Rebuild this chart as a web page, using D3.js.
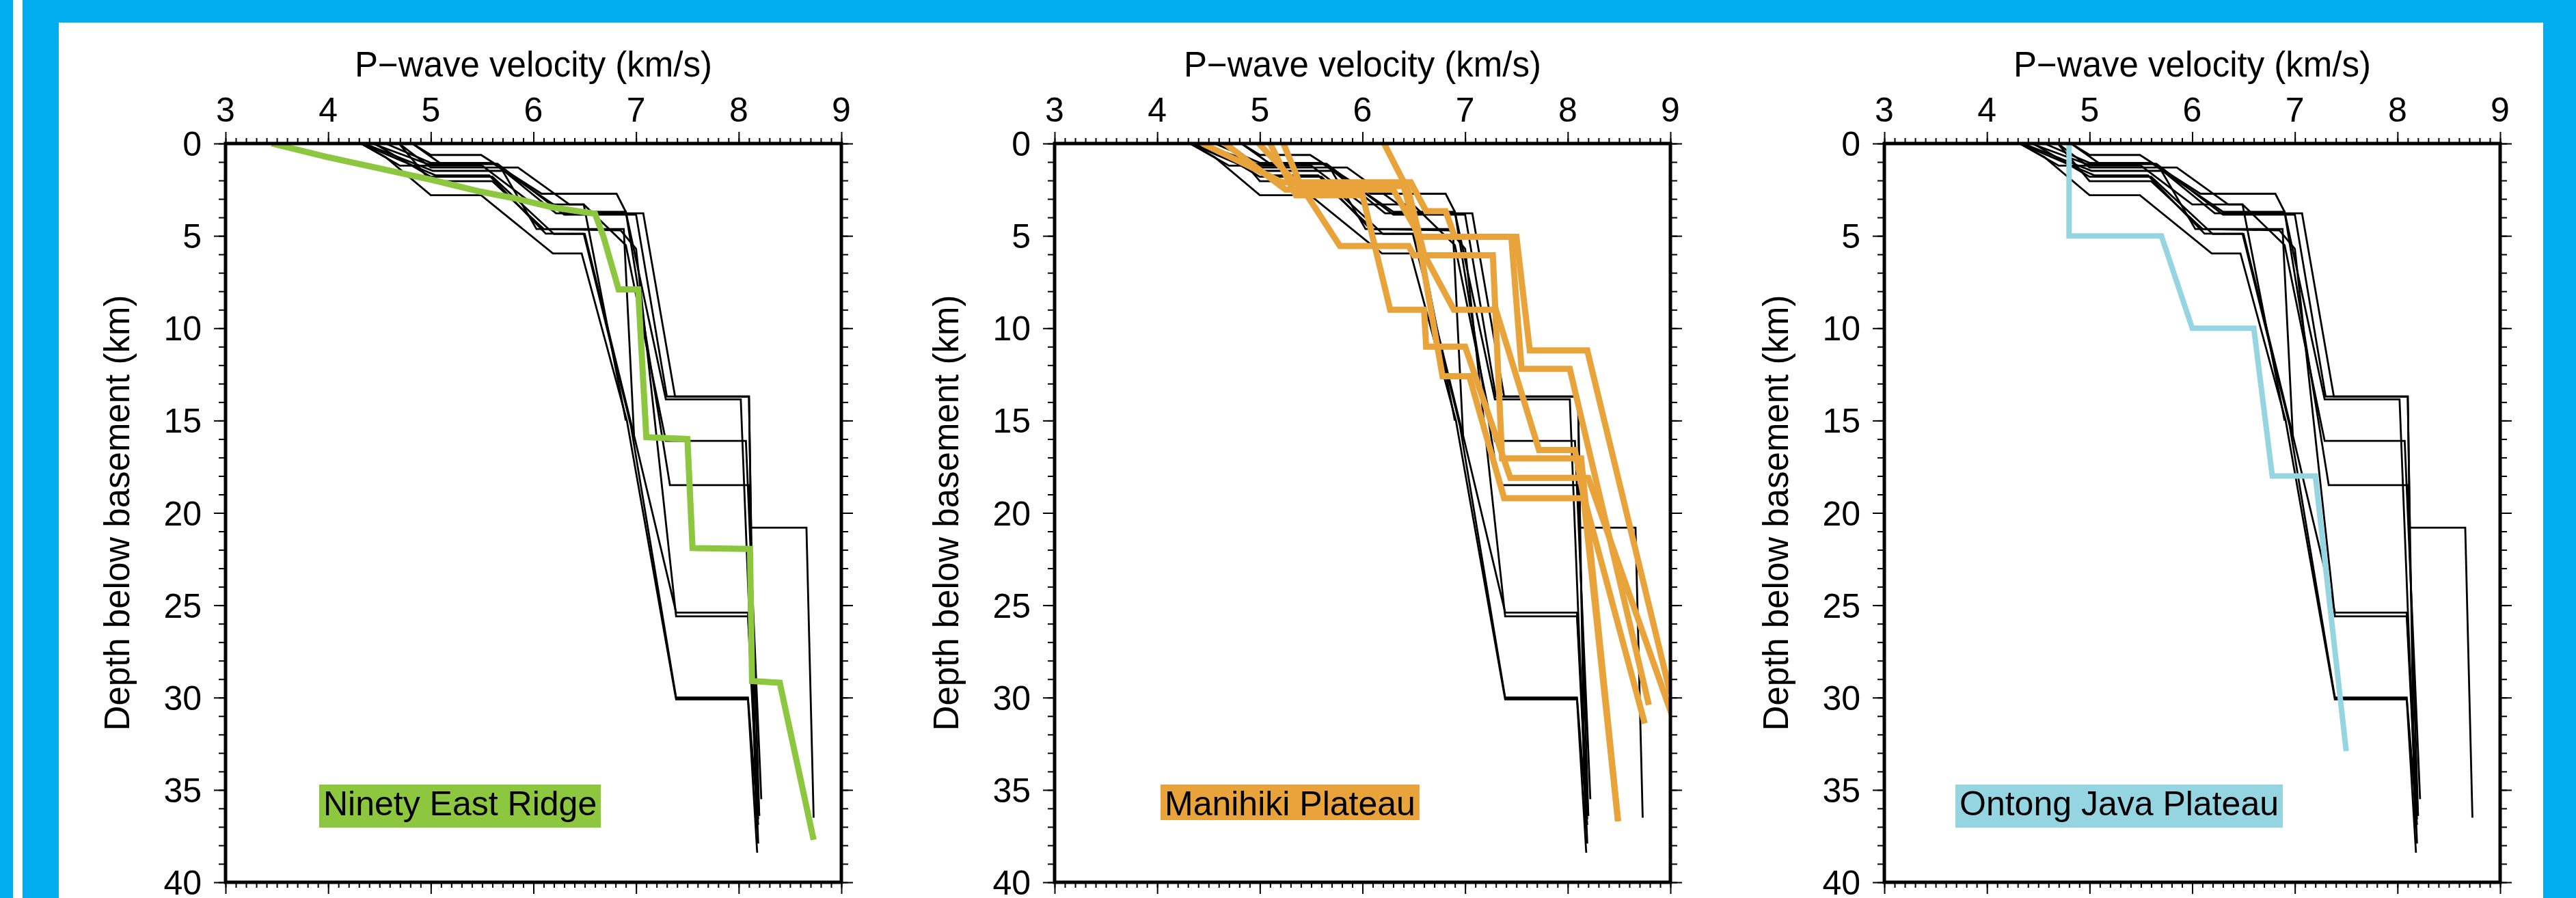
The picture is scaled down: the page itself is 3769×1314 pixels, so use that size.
<!DOCTYPE html>
<html>
<head>
<meta charset="utf-8">
<script src="https://cdn.jsdelivr.net/npm/d3@7"></script>
<style>
  body { margin: 0; background: #fff; }
  svg { display: block; }
  text { font-family: "Liberation Sans", Arial, Helvetica, sans-serif; fill: #000; }
</style>
</head>
<body>
<svg id="chart"></svg>
<script>
// Axis ticks
const xTicks = [3, 4, 5, 6, 7, 8, 9];
const yTicks = [0, 5, 10, 15, 20, 25, 30, 35, 40];

// Reference velocity profiles (black) [velocity km/s, depth km], same in every panel
const refProfiles = [
  [[4.32,0],[4.56,0.74],[5.0,2.8],[5.49,2.8],[6.19,5.95],[6.47,5.95],[6.91,15.0],[7.39,30.1],[8.09,30.1],[8.18,38.4]],
  [[4.32,0],[5.05,1.73],[5.57,1.73],[6.12,4.88],[6.49,4.88],[6.95,15.3],[7.39,30.0],[8.09,30.0],[8.19,36.9]],
  [[4.35,0],[5.02,1.48],[5.70,1.48],[6.03,4.63],[6.88,4.63],[6.98,15.8],[7.39,25.4],[8.09,25.4],[8.20,36.4]],
  [[4.43,0],[4.97,1.11],[5.63,1.11],[6.22,3.78],[7.07,3.78],[7.38,13.7],[8.10,13.7],[8.12,20.8],[8.66,20.8],[8.73,36.5]],
  [[4.56,0],[5.0,1.05],[5.6,1.05],[6.3,3.7],[6.9,3.7],[7.29,13.85],[8.02,13.85],[8.19,37.9]],
  [[4.69,0],[5.0,1.3],[5.85,1.3],[6.35,3.3],[6.49,3.3],[6.9,5.5],[7.29,16.1],[8.07,16.1],[8.22,35.5]],
  [[4.82,0],[5.0,0.62],[5.49,0.62],[6.08,2.72],[6.81,2.72],[6.9,3.7],[7.33,18.5],[8.10,18.5],[8.20,36.4]],
  [[4.69,0],[5.0,2.04],[5.6,2.04],[6.1,4.63],[6.85,4.7],[7.0,5.7],[7.39,25.6],[8.09,25.6],[8.19,36.6]],
  [[4.32,0],[4.7,1.2],[5.5,1.2],[6.0,3.3],[6.49,3.3],[6.9,15.0]],
  [[4.45,0],[5.0,1.8],[5.6,1.8],[6.2,4.9],[6.5,4.9],[6.98,15.8]],
  [[4.82,0],[5.1,1.1],[5.65,1.1],[6.3,3.85],[7.0,3.85],[7.3,13.7],[8.1,13.7],[8.17,37.0]]
];

// Ninety East Ridge profile
const ninetyEast = [
  [[3.45,0],[4.0,0.74],[5.02,1.98],[5.48,2.6],[5.81,2.96],[6.19,3.46],[6.6,3.8],[6.68,5.0],[6.83,7.9],[7.02,7.9],
   [7.1,15.9],[7.5,16.0],[7.55,21.9],[8.11,21.95],[8.13,29.1],[8.40,29.2],[8.73,37.7]]
];

// Manihiki Plateau profiles
const manihiki = [
  [[4.44,0],[5.22,2.1],[6.47,2.1],[6.62,3.66],[6.81,3.66],[6.9,5.05],[7.5,5.05],[7.63,11.2],[8.19,11.2],[9.0,29.8]],
  [[4.66,0],[5.25,2.5],[6.3,2.5],[6.56,5.05],[7.45,5.05],[7.55,12.2],[8.02,12.2],[8.79,30.4]],
  [[4.99,0],[5.45,2.72],[5.78,5.55],[6.45,5.55],[6.5,6.05],[7.27,6.05],[7.36,17.05],[8.13,17.05],[8.49,36.7]],
  [[5.10,0],[5.35,2.8],[6.0,2.8],[6.27,9.0],[6.6,9.0],[6.62,11.0],[7.0,11.0],[7.44,18.1],[8.2,18.1],[9.05,31.5]],
  [[5.23,0],[5.4,2.3],[6.4,2.3],[6.55,5.3],[6.78,12.6],[7.04,12.6],[7.38,19.2],[8.16,19.2],[8.75,31.4]],
  [[6.21,0],[6.45,2.6],[6.6,6.0],[6.89,9.0],[7.3,9.0],[7.72,16.6],[8.07,16.6],[8.15,19.0],[8.49,36.7]]
];

// Ontong Java Plateau profile
const ontongJava = [
  [[4.8,0],[4.8,5],[5.7,5],[6.0,10],[6.6,10],[6.78,18],[7.2,18],[7.5,32.9]]
];

const panels = [
  { left: 330,  name: "Ninety East Ridge",   color: "#8dc63f", profiles: ninetyEast, labelX: 137, width: 9 },
  { left: 1543, name: "Manihiki Plateau",    color: "#e8a33a", profiles: manihiki,   labelX: 155, width: 9 },
  { left: 2757, name: "Ontong Java Plateau", color: "#95d5e1", profiles: ontongJava, labelX: 104, width: 8 }
];

const W = 3769, H = 1314;
const plotTop = 210, pw = 901, ph = 1081;
const blue = "#00aeef";

const svg = d3.select("#chart").attr("width", W).attr("height", H);
svg.append("rect").attr("width", W).attr("height", H).attr("fill", "#fff");

// blue frame
svg.append("rect").attr("x", 0).attr("y", 0).attr("width", 19).attr("height", H).attr("fill", blue);
svg.append("rect").attr("x", 33).attr("y", 0).attr("width", 53).attr("height", H).attr("fill", blue);
svg.append("rect").attr("x", 33).attr("y", 0).attr("width", W - 33).attr("height", 33).attr("fill", blue);
svg.append("rect").attr("x", 3721).attr("y", 0).attr("width", W - 3721).attr("height", H).attr("fill", blue);

const x = d3.scaleLinear().domain([3, 9]).range([0, pw]);
const y = d3.scaleLinear().domain([0, 40]).range([0, ph]);
const line = d3.line().x(d => x(d[0])).y(d => y(d[1]));

const xMinor = d3.range(30, 91, 1).map(d => d / 10);
const yMinor = d3.range(0, 41, 1);

svg.append("defs").append("clipPath").attr("id", "plotClip")
  .append("rect").attr("width", pw).attr("height", ph);

panels.forEach(p => {
  const g = svg.append("g").attr("transform", `translate(${p.left},${plotTop})`);

  // minor + major ticks on all four sides
  const axes = [
    [() => d3.axisTop(x), 0],
    [() => d3.axisBottom(x), ph],
  ];
  axes.forEach(([mk, off]) => {
    g.append("g").attr("transform", `translate(0,${off})`)
      .call(mk().tickValues(xMinor).tickSize(8).tickFormat("").tickSizeOuter(0));
    g.append("g").attr("transform", `translate(0,${off})`)
      .call(mk().tickValues(xTicks).tickSize(17).tickFormat("").tickSizeOuter(0));
  });
  g.append("g").call(d3.axisLeft(y).tickValues(yMinor).tickSize(10).tickFormat("").tickSizeOuter(0));
  g.append("g").call(d3.axisLeft(y).tickValues(yTicks).tickSize(17).tickFormat("").tickSizeOuter(0));
  g.append("g").attr("transform", `translate(${pw},0)`)
    .call(d3.axisRight(y).tickValues(yMinor).tickSize(10).tickFormat("").tickSizeOuter(0));
  g.append("g").attr("transform", `translate(${pw},0)`)
    .call(d3.axisRight(y).tickValues(yTicks).tickSize(17).tickFormat("").tickSizeOuter(0));
  g.selectAll(".domain").remove();
  g.selectAll(".tick line").attr("stroke", "#000").attr("stroke-width", 2);

  // tick labels
  g.selectAll(".xlab").data(xTicks).join("text")
    .attr("class", "xlab")
    .attr("x", d => x(d)).attr("y", -32)
    .attr("text-anchor", "middle").attr("font-size", 50)
    .text(d => d);
  g.selectAll(".ylab").data(yTicks).join("text")
    .attr("class", "ylab")
    .attr("x", -35).attr("y", d => y(d)).attr("dy", "0.36em")
    .attr("text-anchor", "end").attr("font-size", 50)
    .text(d => d);

  // axis titles
  g.append("text").attr("x", pw / 2).attr("y", -98)
    .attr("text-anchor", "middle").attr("font-size", 51)
    .text("P\u2212wave velocity (km/s)");
  g.append("text")
    .attr("transform", `translate(-141,${ph / 2}) rotate(-90)`)
    .attr("text-anchor", "middle").attr("font-size", 51)
    .text("Depth below basement (km)");

  const plot = g.append("g").attr("clip-path", "url(#plotClip)");

  // reference profiles
  plot.selectAll(".ref").data(refProfiles).join("path")
    .attr("class", "ref")
    .attr("d", line).attr("fill", "none")
    .attr("stroke", "#000").attr("stroke-width", 2.8)
    .attr("stroke-linejoin", "miter");

  // highlighted region
  plot.selectAll(".hl").data(p.profiles).join("path")
    .attr("class", "hl")
    .attr("d", line).attr("fill", "none")
    .attr("stroke", p.color).attr("stroke-width", p.width)
    .attr("stroke-linejoin", "miter");

  // frame
  g.append("rect").attr("width", pw).attr("height", ph)
    .attr("fill", "none").attr("stroke", "#000").attr("stroke-width", 5);

  // label with coloured box
  const lbl = g.append("g");
  const t = lbl.append("text").attr("x", p.labelX + 6).attr("y", 983)
    .attr("font-size", 50).text(p.name);
  const bb = t.node().getBBox();
  lbl.insert("rect", "text")
    .attr("x", p.labelX).attr("y", 983 - 45)
    .attr("width", bb.width + 12)
    .attr("height", /[gjpqy]/.test(p.name) ? 63 : 52)
    .attr("fill", p.color);
});
</script>
</body>
</html>
